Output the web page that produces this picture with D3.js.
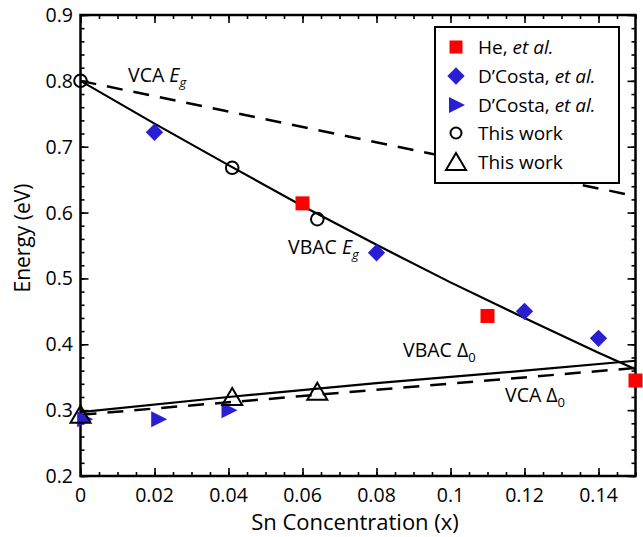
<!DOCTYPE html>
<html><head><meta charset="utf-8">
<script src="https://cdn.jsdelivr.net/npm/d3@7"></script>
<style>body{margin:0;background:#fff}svg{display:block}text{font-family:"Open Sans",sans-serif;fill:#000}</style>
</head><body><svg id="c" width="643" height="537"></svg>
<script>
// ---- data ----
const heX = [0.060, 0.110, 0.150];
const heY = [0.614, 0.443, 0.345];
const dcDiamondX = [0.020, 0.080, 0.120, 0.140];
const dcDiamondY = [0.722, 0.539, 0.450, 0.409];
const dcTriX = [0.001, 0.021, 0.040];
const dcTriY = [0.286, 0.286, 0.300];
const twCircleX = [0.000, 0.041, 0.064];
const twCircleY = [0.800, 0.668, 0.590];
const twTriX = [0.000, 0.041, 0.064];
const twTriY = [0.293, 0.320, 0.328];
const vbacEgX = [0, 0.02, 0.04, 0.06, 0.08, 0.10, 0.12, 0.14, 0.15];
const vbacEgY = [0.800, 0.735, 0.672, 0.610, 0.551, 0.494, 0.440, 0.387, 0.362];
const vcaEgX = [0, 0.15];
const vcaEgY = [0.800, 0.625];
const vbacD0X = [0, 0.04, 0.08, 0.12, 0.15];
const vbacD0Y = [0.297, 0.320, 0.341, 0.360, 0.375];
const vcaD0X = [0, 0.15];
const vcaD0Y = [0.293, 0.364];
const xTicks = [0, 0.02, 0.04, 0.06, 0.08, 0.1, 0.12, 0.14];
const yTicks = [0.2, 0.3, 0.4, 0.5, 0.6, 0.7, 0.8, 0.9];

const L = 80.5, R = 635.5, T = 15, B = 476;
const x = d3.scaleLinear().domain([0, 0.15]).range([L, R]);
const y = d3.scaleLinear().domain([0.2, 0.9]).range([B, T]);
const svg = d3.select("#c");
const blue = "#2a1ed2", red = "#ff0000";

svg.append("defs").append("clipPath").attr("id","clip").append("rect")
  .attr("x",L).attr("y",T).attr("width",R-L).attr("height",B-T);

// axes with inward ticks
const minorX = d3.range(0, 0.1501, 0.005);
const minorY = d3.range(0.2, 0.9001, 0.02);
function ax(gen, tr, vals, len) {
  svg.append("g").attr("transform", tr)
    .call(gen.tickValues(vals).tickSize(len).tickFormat(""))
    .call(g => { g.select(".domain").remove(); g.selectAll("line").attr("stroke","#000").attr("stroke-width",1.6); });
}
ax(d3.axisTop(x), `translate(0,${B})`, minorX, 4);
ax(d3.axisTop(x), `translate(0,${B})`, xTicks, 8);
ax(d3.axisBottom(x), `translate(0,${T})`, minorX, 4);
ax(d3.axisBottom(x), `translate(0,${T})`, xTicks, 8);
ax(d3.axisRight(y), `translate(${L},0)`, minorY, 4);
ax(d3.axisRight(y), `translate(${L},0)`, yTicks, 8);
ax(d3.axisLeft(y), `translate(${R},0)`, minorY, 4);
ax(d3.axisLeft(y), `translate(${R},0)`, yTicks, 8);

svg.append("rect").attr("x",L).attr("y",T).attr("width",R-L).attr("height",B-T)
  .attr("fill","none").attr("stroke","#000").attr("stroke-width",2.5);

// tick labels
svg.append("g").selectAll("text").data(xTicks).join("text")
  .attr("x", d => x(d)).attr("y", 502).attr("text-anchor","middle")
  .attr("font-size",19.5).text(d => d === 0 ? "0" : d3.format("")(+d.toFixed(2)));
svg.append("g").selectAll("text").data(yTicks).join("text")
  .attr("x", 73).attr("y", d => y(d) + 7).attr("text-anchor","end")
  .attr("font-size",19.5).text(d => d.toFixed(1));

svg.append("text").attr("x",355).attr("y",530).attr("text-anchor","middle")
  .attr("font-size",22).text("Sn Concentration (x)");
svg.append("text").attr("transform","translate(30,238) rotate(-90)").attr("text-anchor","middle")
  .attr("font-size",21).text("Energy (eV)");

// lines
const line = d3.line().x(d => x(d[0])).y(d => y(d[1]));
const lg = svg.append("g").attr("clip-path","url(#clip)");
function addLine(xs, ys, dashed) {
  lg.append("path").datum(d3.zip(xs, ys)).attr("d", line).attr("fill","none")
    .attr("stroke","#000").attr("stroke-width", dashed ? 2.5 : 2.2)
    .attr("stroke-dasharray", dashed ? "16,11" : null);
}
addLine(vcaEgX, vcaEgY, true);
addLine(vbacEgX, vbacEgY, false);
addLine(vbacD0X, vbacD0Y, false);
addLine(vcaD0X, vcaD0Y, true);

// markers
const sq = d3.symbol().type(d3.symbolSquare).size(196);
const dia = d3.symbol().type(d3.symbolSquare).size(150);
const rtri = "M-7,-8L9,0L-7,8Z";
const otri = "M0,-9L10,8L-10,8Z";
const mk = svg.append("g");
mk.selectAll(".he").data(d3.zip(heX, heY)).join("path")
  .attr("d", sq).attr("transform", d => `translate(${x(d[0])},${y(d[1])})`).attr("fill", red);
mk.selectAll(".dd").data(d3.zip(dcDiamondX, dcDiamondY)).join("path")
  .attr("d", dia).attr("transform", d => `translate(${x(d[0])},${y(d[1])}) rotate(45)`).attr("fill", blue);
mk.selectAll(".dt").data(d3.zip(dcTriX, dcTriY)).join("path")
  .attr("d", rtri).attr("transform", d => `translate(${x(d[0])},${y(d[1])})`).attr("fill", blue);
mk.selectAll(".tc").data(d3.zip(twCircleX, twCircleY)).join("circle")
  .attr("cx", d => x(d[0])).attr("cy", d => y(d[1])).attr("r", 6.3)
  .attr("fill","none").attr("stroke","#000").attr("stroke-width",2);
mk.selectAll(".tt").data(d3.zip(twTriX, twTriY)).join("path")
  .attr("d", otri).attr("transform", d => `translate(${x(d[0])},${y(d[1])})`)
  .attr("fill","none").attr("stroke","#000").attr("stroke-width",2);

// annotations
function ann(tx, ty, main, sub, italic) {
  const t = svg.append("text").attr("x",tx).attr("y",ty).attr("font-size",19.5);
  t.append("tspan").text(main);
  t.append("tspan").attr("font-style", italic ? "italic" : null).text(sub[0]);
  t.append("tspan").attr("font-size",13).attr("dy",5).attr("font-style", italic ? "italic" : null).text(sub[1]);
}
ann(128, 82, "VCA ", ["E","g"], true);
ann(288, 254, "VBAC ", ["E","g"], true);
ann(403, 357, "VBAC ", ["\u0394","0"], false);
ann(505, 402, "VCA ", ["\u0394","0"], false);

// legend
const lgd = svg.append("g");
lgd.append("rect").attr("x",435).attr("y",27).attr("width",184).attr("height",156)
  .attr("fill","#fff").attr("stroke","#000").attr("stroke-width",2);
const entries = [
  {t:"He, ", it:"et al.", m:"sq"},
  {t:"D\u2019Costa, ", it:"et al.", m:"dia"},
  {t:"D\u2019Costa, ", it:"et al.", m:"rtri"},
  {t:"This work", it:"", m:"circ"},
  {t:"This work", it:"", m:"otri"}
];
const ey = [47, 76, 105, 133, 162];
entries.forEach((e, i) => {
  const cx = 456, cy = ey[i];
  if (e.m === "sq") lgd.append("path").attr("d", d3.symbol().type(d3.symbolSquare).size(169)).attr("transform",`translate(${cx},${cy})`).attr("fill",red);
  if (e.m === "dia") lgd.append("path").attr("d", dia).attr("transform",`translate(${cx},${cy}) rotate(45)`).attr("fill",blue);
  if (e.m === "rtri") lgd.append("path").attr("d", rtri).attr("transform",`translate(${cx},${cy})`).attr("fill",blue);
  if (e.m === "circ") lgd.append("circle").attr("cx",cx).attr("cy",cy).attr("r",5.5).attr("fill","none").attr("stroke","#000").attr("stroke-width",2);
  if (e.m === "otri") lgd.append("path").attr("d", otri).attr("transform",`translate(${cx},${cy})`).attr("fill","none").attr("stroke","#000").attr("stroke-width",2);
  const t = lgd.append("text").attr("x",478).attr("y",cy+7).attr("font-size",19).attr("textLength", null);
  t.append("tspan").text(e.t);
  if (e.it) t.append("tspan").attr("font-style","italic").text(e.it);
});
</script></body></html>
